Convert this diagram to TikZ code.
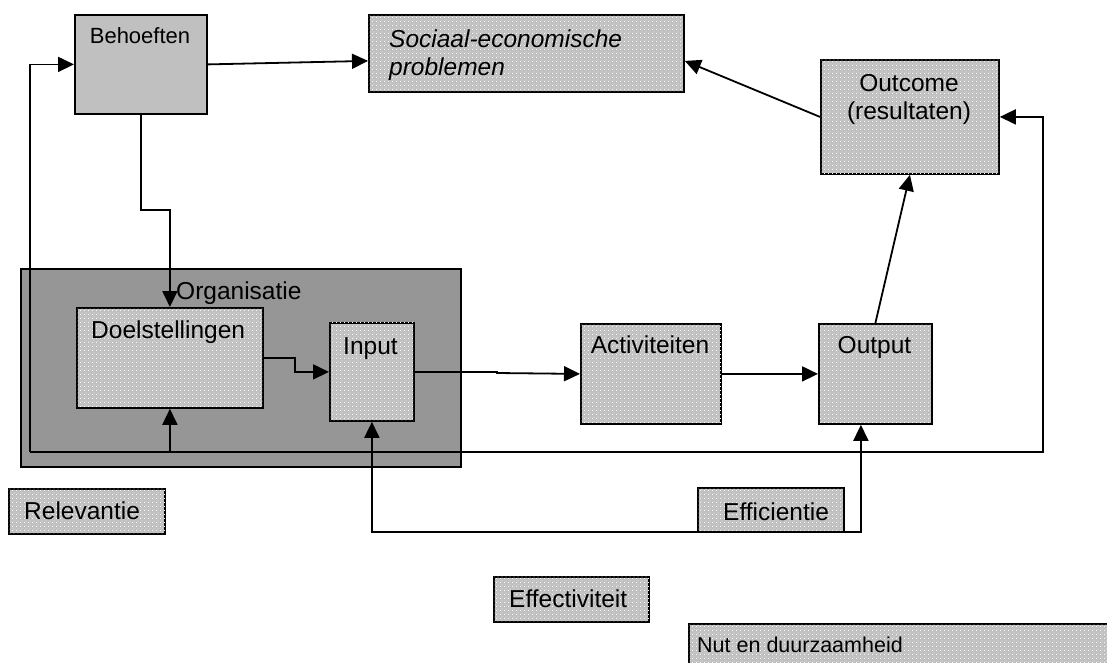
\documentclass[tikz,border=0pt]{standalone}
\usepackage{fontspec}
\setmainfont{Liberation Sans}
\usetikzlibrary{arrows.meta,patterns}
\definecolor{boxgray}{HTML}{C0C0C0}
\definecolor{behgray}{HTML}{C0C0C0}
\definecolor{orggray}{HTML}{969696}
\pgfdeclarepatternformonly{wdots}{\pgfqpoint{0pt}{0pt}}{\pgfqpoint{4pt}{4pt}}{\pgfqpoint{4pt}{4pt}}{%
  \pgfpathrectangle{\pgfqpoint{0pt}{0pt}}{\pgfqpoint{1pt}{1pt}}%
  \pgfpathrectangle{\pgfqpoint{2pt}{2pt}}{\pgfqpoint{1pt}{1pt}}%
  \pgfusepath{fill}}
\tikzset{
  box/.style={draw=black, line width=1.8pt, fill=boxgray, inner sep=0pt, anchor=north west,
    postaction={pattern=wdots, pattern color=white!90!boxgray}},
  plainbox/.style={draw=black, line width=1.8pt, inner sep=0pt, anchor=north west},
  lbl/.style={inner sep=0pt, font=\fontsize{24.5}{28}\selectfont},
  smalllbl/.style={inner sep=0pt, font=\fontsize{22}{26}\selectfont},
  arr/.style={line width=1.8pt, -{Triangle[length=16pt,width=15pt]}},
  ln/.style={line width=1.8pt}
}
\begin{document}
\begin{tikzpicture}[x=1pt,y=-1pt]
\useasboundingbox (0,0) rectangle (1107,662);
\clip (0,0) rectangle (1107,662);

% Organisatie container
\node[plainbox, fill=orggray, minimum width=440pt, minimum height=198pt] (org) at (20,268) {};
\node[lbl, anchor=base west] (torg) at (176,299) {Organisatie};

% boxes
\node[plainbox, fill=behgray, minimum width=132pt, minimum height=99pt] (beh) at (74,14) {};
\node[smalllbl, anchor=base] (tbeh) at (140,43) {Behoeften};

\node[box, minimum width=315pt, minimum height=77pt] (soc) at (368,14) {};
\node[lbl, anchor=base west, font=\fontsize{24.5}{28}\selectfont\itshape] (tsoc1) at (389,47) {Sociaal-economische};
\node[lbl, anchor=base west, font=\fontsize{24.5}{28}\selectfont\itshape] (tsoc2) at (389,75) {problemen};

\node[box, minimum width=178pt, minimum height=114pt] (outc) at (820,59) {};
\node[lbl, anchor=base] (toutc1) at (909,91) {Outcome};
\node[lbl, anchor=base] (toutc2) at (909,119) {(resultaten)};

% feedback loop (relevance / outcome)
\coordinate (jl) at (30,452);
\coordinate (jr) at (1043,452);
\draw[arr] (jl) -- (jr) |- (outc.east);
\draw[arr] (jl) |- (beh.west);

\node[box, minimum width=186pt, minimum height=100pt] (doel) at (76,307) {};
\node[lbl, anchor=base west] (tdoel) at (91,338) {Doelstellingen};
\draw[arr] (jl -| doel.south) -- (doel.south);

\node[box, minimum width=84pt, minimum height=98pt] (inp) at (329,322) {};
\node[lbl, anchor=base west] (tinp) at (343,354) {Input};

\node[box, minimum width=140pt, minimum height=100pt] (act) at (580,323) {};
\node[lbl, anchor=base] (tact) at (650,353) {Activiteiten};

\node[box, minimum width=113pt, minimum height=100pt] (outp) at (818,323) {};
\node[lbl, anchor=base] (toutp) at (874.5,353) {Output};

% connectors
\draw[arr] (beh.east) -- ([yshift=-7.5pt]soc.west);
\draw[arr] (outc.west) -- ([yshift=-7.5pt]soc.east);
\draw[arr] (beh.south) |- (155,210) -| (doel.north);
\draw[arr] (doel.east) -| (295,364) |- (inp.west);
\draw[arr] (inp.east) -- (497,372) -- (497,373) -- (act.west);
\draw[arr] (act.east) -- (outp.west);
\draw[arr] (outp.north) -- (outc.south);

% efficiency loop
\coordinate (je) at (600,532);
\draw[arr] (je) -| (inp.south);
\draw[arr] (je) -| ([xshift=-14.5pt]outp.south);

% criteria labels
\node[box, minimum width=156pt, minimum height=45pt] (rel) at (8,488) {};
\node[lbl, anchor=base west] (trel) at (24,519) {Relevantie};

\node[box, minimum width=146pt, minimum height=44pt] (effi) at (697,487) {};
\node[lbl, anchor=base west] (teffi) at (723,520) {Efficientie};

\node[box, minimum width=155pt, minimum height=45pt] (effe) at (493,576) {};
\node[lbl, anchor=base west] (teffe) at (509,607) {Effectiviteit};

\node[box, minimum width=450pt, minimum height=60pt] (nut) at (688,623) {};
\node[lbl, anchor=base west, font=\fontsize{21.5}{26}\selectfont] (tnut) at (697,652) {Nut en duurzaamheid};
\end{tikzpicture}
\end{document}
